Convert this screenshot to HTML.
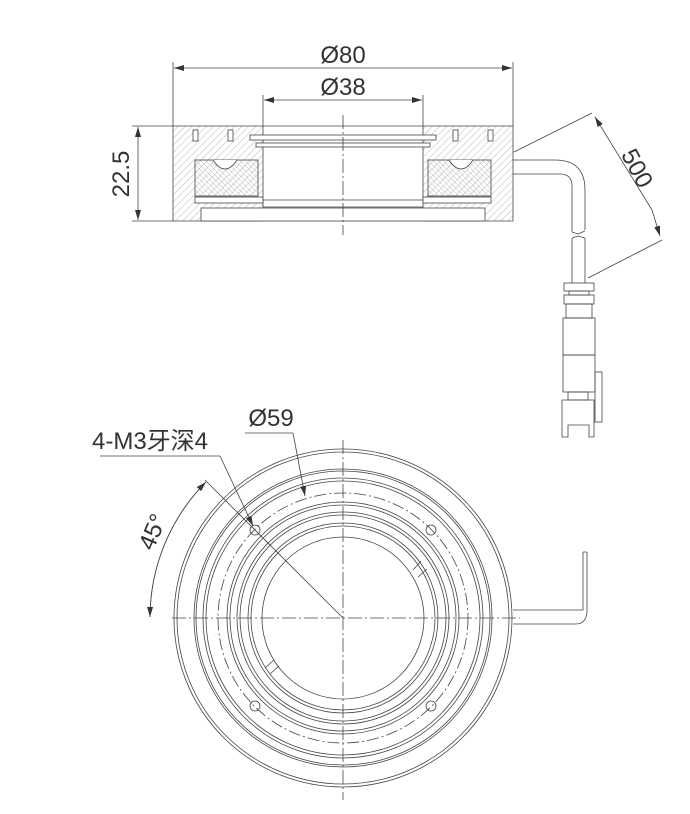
<!DOCTYPE html>
<html><head><meta charset="utf-8"><style>
html,body{margin:0;padding:0;background:#fff;}
svg{display:block;}
text{font-family:"Liberation Sans","Noto Sans CJK SC",sans-serif;fill:#333;}
</style></head><body>
<svg width="690" height="814" viewBox="0 0 690 814" xmlns="http://www.w3.org/2000/svg">
<defs>
<pattern id="h" width="5" height="5" patternUnits="userSpaceOnUse" patternTransform="rotate(45)">
<line x1="0" y1="0" x2="0" y2="5" stroke="#999" stroke-width="0.7"/></pattern>
<pattern id="h2" width="3.5" height="3.5" patternUnits="userSpaceOnUse" patternTransform="rotate(-45)">
<line x1="0" y1="0" x2="0" y2="3.5" stroke="#999" stroke-width="0.6"/></pattern>
<marker id="a" markerWidth="10" markerHeight="6" refX="10" refY="3" orient="auto" markerUnits="userSpaceOnUse">
<path d="M0,0 L10,3 L0,6 z" fill="#333"/></marker>
</defs>
<g stroke="#444" fill="none" stroke-width="0.8">
<line x1="173" y1="62" x2="173" y2="126"/><line x1="513" y1="62" x2="513" y2="126"/>
<line x1="343" y1="68" x2="174" y2="68" marker-end="url(#a)"/><line x1="343" y1="68" x2="512" y2="68" marker-end="url(#a)"/>
<line x1="263" y1="95" x2="263" y2="126"/><line x1="423" y1="95" x2="423" y2="126"/>
<line x1="343" y1="100" x2="264" y2="100" marker-end="url(#a)"/><line x1="343" y1="100" x2="422" y2="100" marker-end="url(#a)"/>
<line x1="132" y1="126" x2="173" y2="126"/><line x1="132" y1="221" x2="173" y2="221"/>
<line x1="138" y1="174" x2="138" y2="127" marker-end="url(#a)"/><line x1="138" y1="174" x2="138" y2="220" marker-end="url(#a)"/>
<path d="M173,126 H263 V221 H173 Z" fill="url(#h)"/>
<path d="M423,126 H513 V221 H423 Z" fill="url(#h)"/>
<rect x="195" y="160" width="63" height="36" fill="url(#h2)"/>
<rect x="428" y="160" width="63" height="36" fill="url(#h2)"/>
<rect x="195" y="197" width="68" height="6" fill="#fff"/>
<rect x="423" y="197" width="68" height="6" fill="#fff"/>
<rect x="201" y="208" width="284" height="13" fill="#fff"/>
<path d="M213,160 q12,18 24,0" fill="#fff"/><path d="M449,160 q12,18 24,0" fill="#fff"/>
<rect x="193" y="130" width="5" height="11" fill="#fff"/><rect x="228" y="130" width="5" height="11" fill="#fff"/>
<rect x="453" y="130" width="5" height="11" fill="#fff"/><rect x="488" y="130" width="5" height="11" fill="#fff"/>
<line x1="263" y1="126" x2="423" y2="126"/>
<rect x="250" y="135" width="186" height="5" fill="#fff"/>
<rect x="256" y="143" width="174" height="4" fill="#fff"/>
<line x1="263" y1="200" x2="423" y2="200"/><line x1="263" y1="207" x2="423" y2="207"/>
<line x1="343" y1="115" x2="343" y2="235" stroke-dasharray="14,3,2,3"/>
<!-- cable -->
<path d="M513,160 H555 Q585,160 585,190 V230"/><path d="M513,174 H560 Q572,174 572,186 V232"/>
<path d="M572,232 l6,2 l7,-3"/>
<path d="M572,238 l6,-2 l7,2 M572,238 V283 M585,238 V283"/>
<rect x="564" y="283" width="30" height="8"/><rect x="569" y="291" width="20" height="4"/>
<rect x="564" y="295" width="30" height="9"/><rect x="566" y="304" width="26" height="14"/>
<rect x="563" y="318" width="32" height="37"/><rect x="563" y="355" width="32" height="37"/>
<rect x="568" y="392" width="20" height="8"/><rect x="595" y="372" width="7" height="50"/>
<path d="M562,400 H594 V437 H589 V425 H568 V437 H562 Z"/>
<line x1="514" y1="152" x2="592" y2="113"/><line x1="588" y1="278" x2="662" y2="240"/>
<line x1="652" y1="210" x2="595" y2="117" marker-end="url(#a)"/>
<line x1="652" y1="210" x2="660" y2="236" marker-end="url(#a)"/>
<!-- bottom view -->
<g>
<circle cx="343" cy="618" r="169"/><circle cx="343" cy="618" r="166"/>
<circle cx="343" cy="618" r="149"/><circle cx="343" cy="618" r="147"/>
<circle cx="343" cy="618" r="140"/><circle cx="343" cy="618" r="137"/>
<circle cx="343" cy="618" r="125" stroke-dasharray="12,3,2,3"/>
<circle cx="343" cy="618" r="116"/><circle cx="343" cy="618" r="113"/>
<circle cx="343" cy="618" r="106"/><circle cx="343" cy="618" r="103"/>
<circle cx="343" cy="618" r="95"/><circle cx="343" cy="618" r="92"/>
<circle cx="343" cy="618" r="81"/>
<circle cx="255" cy="530" r="5"/><circle cx="431" cy="530" r="5"/>
<circle cx="255" cy="706" r="5"/><circle cx="431" cy="706" r="5"/>
<path d="M413,570 l8,-9 M418,577 l9,-8 M265,668 l9,-8 M270,674 l9,-8"/>
<line x1="343" y1="440" x2="343" y2="800" stroke-dasharray="14,3,2,3"/>
<line x1="172" y1="618" x2="520" y2="618" stroke-dasharray="14,3,2,3"/>
<line x1="343" y1="618" x2="205" y2="480"/>
<path d="M513,610 H583 V552 M513,624 H576 Q586,624 587,612 V552 M583,552 H587"/>
<path d="M150,617 A193,193 0 0 1 206,482" marker-end="url(#a)"/>
<path d="M206,482 A193,193 0 0 0 150,617" marker-end="url(#a)"/>
<line x1="100" y1="456" x2="220" y2="456"/><line x1="220" y1="456" x2="253" y2="526" marker-end="url(#a)"/>
<line x1="245" y1="433" x2="293" y2="433"/><line x1="293" y1="433" x2="305" y2="496" marker-end="url(#a)"/>
</g>
</g>
<text x="343" y="63" font-size="24" text-anchor="middle">Ø80</text>
<text x="343" y="95" font-size="24" text-anchor="middle">Ø38</text>
<text x="0" y="0" font-size="24" text-anchor="middle" transform="translate(129,174) rotate(-90)">22.5</text>
<text x="0" y="0" font-size="24" text-anchor="middle" transform="translate(630,172) rotate(62)">500</text>
<text x="271" y="426" font-size="24" text-anchor="middle">Ø59</text>
<text x="92" y="449" font-size="24">4-M3牙深4</text>
<text x="0" y="0" font-size="24" text-anchor="middle" transform="translate(160,535) rotate(-67)">45°</text>
</svg>
</body></html>
